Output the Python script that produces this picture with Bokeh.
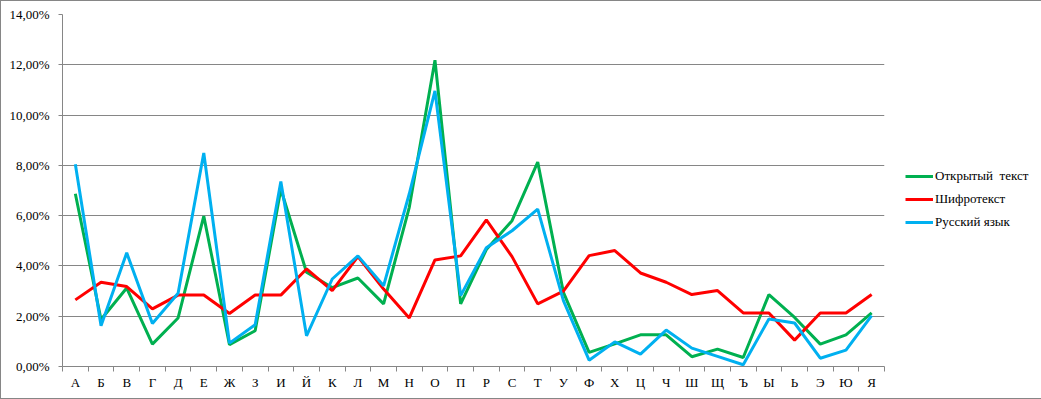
from bokeh.plotting import figure
from bokeh.models import (Range1d, FixedTicker, CustomJSTickFormatter, Legend,
                          LegendItem, ColumnDataSource)
from bokeh.embed import file_html
from bokeh.resources import INLINE

letters = ["А", "Б", "В", "Г", "Д", "Е", "Ж", "З", "И", "Й", "К", "Л", "М", "Н", "О", "П",
           "Р", "С", "Т", "У", "Ф", "Х", "Ц", "Ч", "Ш", "Щ", "Ъ", "Ы", "Ь", "Э", "Ю", "Я"]

open_text = [6.87, 1.87, 3.12, 0.89, 1.93, 5.98, 0.87, 1.42, 7.05, 3.75, 3.14, 3.52, 2.49, 6.33,
             12.18, 2.49, 4.65, 5.80, 8.13, 2.95, 0.56, 0.90, 1.26, 1.26, 0.39, 0.69, 0.36,
             2.86, 1.95, 0.89, 1.26, 2.13]
cipher_text = [2.65, 3.35, 3.18, 2.29, 2.84, 2.84, 2.11, 2.84, 2.84, 3.88, 3.02, 4.37, 3.08, 1.93,
               4.24, 4.40, 5.83, 4.37, 2.49, 3.00, 4.41, 4.61, 3.72, 3.35, 2.86, 3.02, 2.13,
               2.13, 1.05, 2.13, 2.13, 2.86]
russian = [8.04, 1.62, 4.52, 1.71, 2.91, 8.49, 0.93, 1.66, 7.36, 1.22, 3.48, 4.40, 3.21, 6.87,
           10.96, 2.82, 4.72, 5.40, 6.26, 2.62, 0.25, 0.98, 0.49, 1.45, 0.73, 0.40, 0.07,
           1.89, 1.73, 0.33, 0.65, 2.02]

series_names = ["Открытый  текст", "Шифротекст", "Русский язык"]
y_ticks = [0, 2, 4, 6, 8, 10, 12, 14]

FONT = "'Liberation Serif', 'Times New Roman', serif"
GRID = "#868686"

xs = [i + 0.5 for i in range(len(letters))]
src = ColumnDataSource(dict(x=xs, open=open_text, cipher=cipher_text, rus=russian))

p = figure(frame_width=822, frame_height=352, output_backend="svg", toolbar_location=None,
           x_range=Range1d(0, len(letters)), y_range=Range1d(0, 14),
           min_border_left=61, min_border_right=156, min_border_top=13, min_border_bottom=32)
p.styles = {"border": "1px solid #868686"}
p.outline_line_color = None
p.background_fill_color = "white"
p.border_fill_color = "white"

r1 = p.line("x", "open", source=src, line_color="#00B050", line_width=3)
r2 = p.line("x", "cipher", source=src, line_color="#FF0000", line_width=3)
r3 = p.line("x", "rus", source=src, line_color="#00B0F0", line_width=3)

# x axis
xa = p.xaxis[0]
xa.ticker = FixedTicker(ticks=xs, minor_ticks=list(range(len(letters) + 1)))
xa.formatter = CustomJSTickFormatter(args=dict(letters=letters),
                                     code="return letters[Math.floor(tick)];")
xa.major_tick_line_color = None
xa.minor_tick_line_color = GRID
xa.minor_tick_out = 5
xa.minor_tick_in = 0
xa.axis_line_color = GRID
xa.major_label_text_font = FONT
xa.major_label_text_font_size = "13px"
xa.major_label_text_color = "black"
xa.major_label_standoff = 2

# y axis
ya = p.yaxis[0]
ya.ticker = FixedTicker(ticks=y_ticks)
ya.formatter = CustomJSTickFormatter(code="return tick.toFixed(2).replace('.', ',') + '%';")
ya.major_tick_line_color = GRID
ya.major_tick_out = 4
ya.major_tick_in = 0
ya.minor_tick_line_color = None
ya.axis_line_color = GRID
ya.major_label_text_font = FONT
ya.major_label_text_font_size = "13px"
ya.major_label_text_color = "black"
ya.major_label_standoff = 9

p.xgrid.grid_line_color = None
p.ygrid.grid_line_color = GRID
p.ygrid.grid_line_width = 1

legend = Legend(items=[LegendItem(label=series_names[0], renderers=[r1]),
                       LegendItem(label=series_names[1], renderers=[r2]),
                       LegendItem(label=series_names[2], renderers=[r3])],
                location=(21, 134), orientation="vertical")
legend.label_text_font = FONT
legend.label_text_font_size = "13px"
legend.label_text_color = "black"
legend.glyph_width = 28
legend.glyph_height = 20
legend.label_height = 20
legend.label_standoff = 2
legend.spacing = 3
legend.padding = 0
legend.margin = 0
legend.border_line_color = None
legend.background_fill_alpha = 0
p.add_layout(legend, "right")

open("out.html", "w").write(file_html(p, INLINE))
